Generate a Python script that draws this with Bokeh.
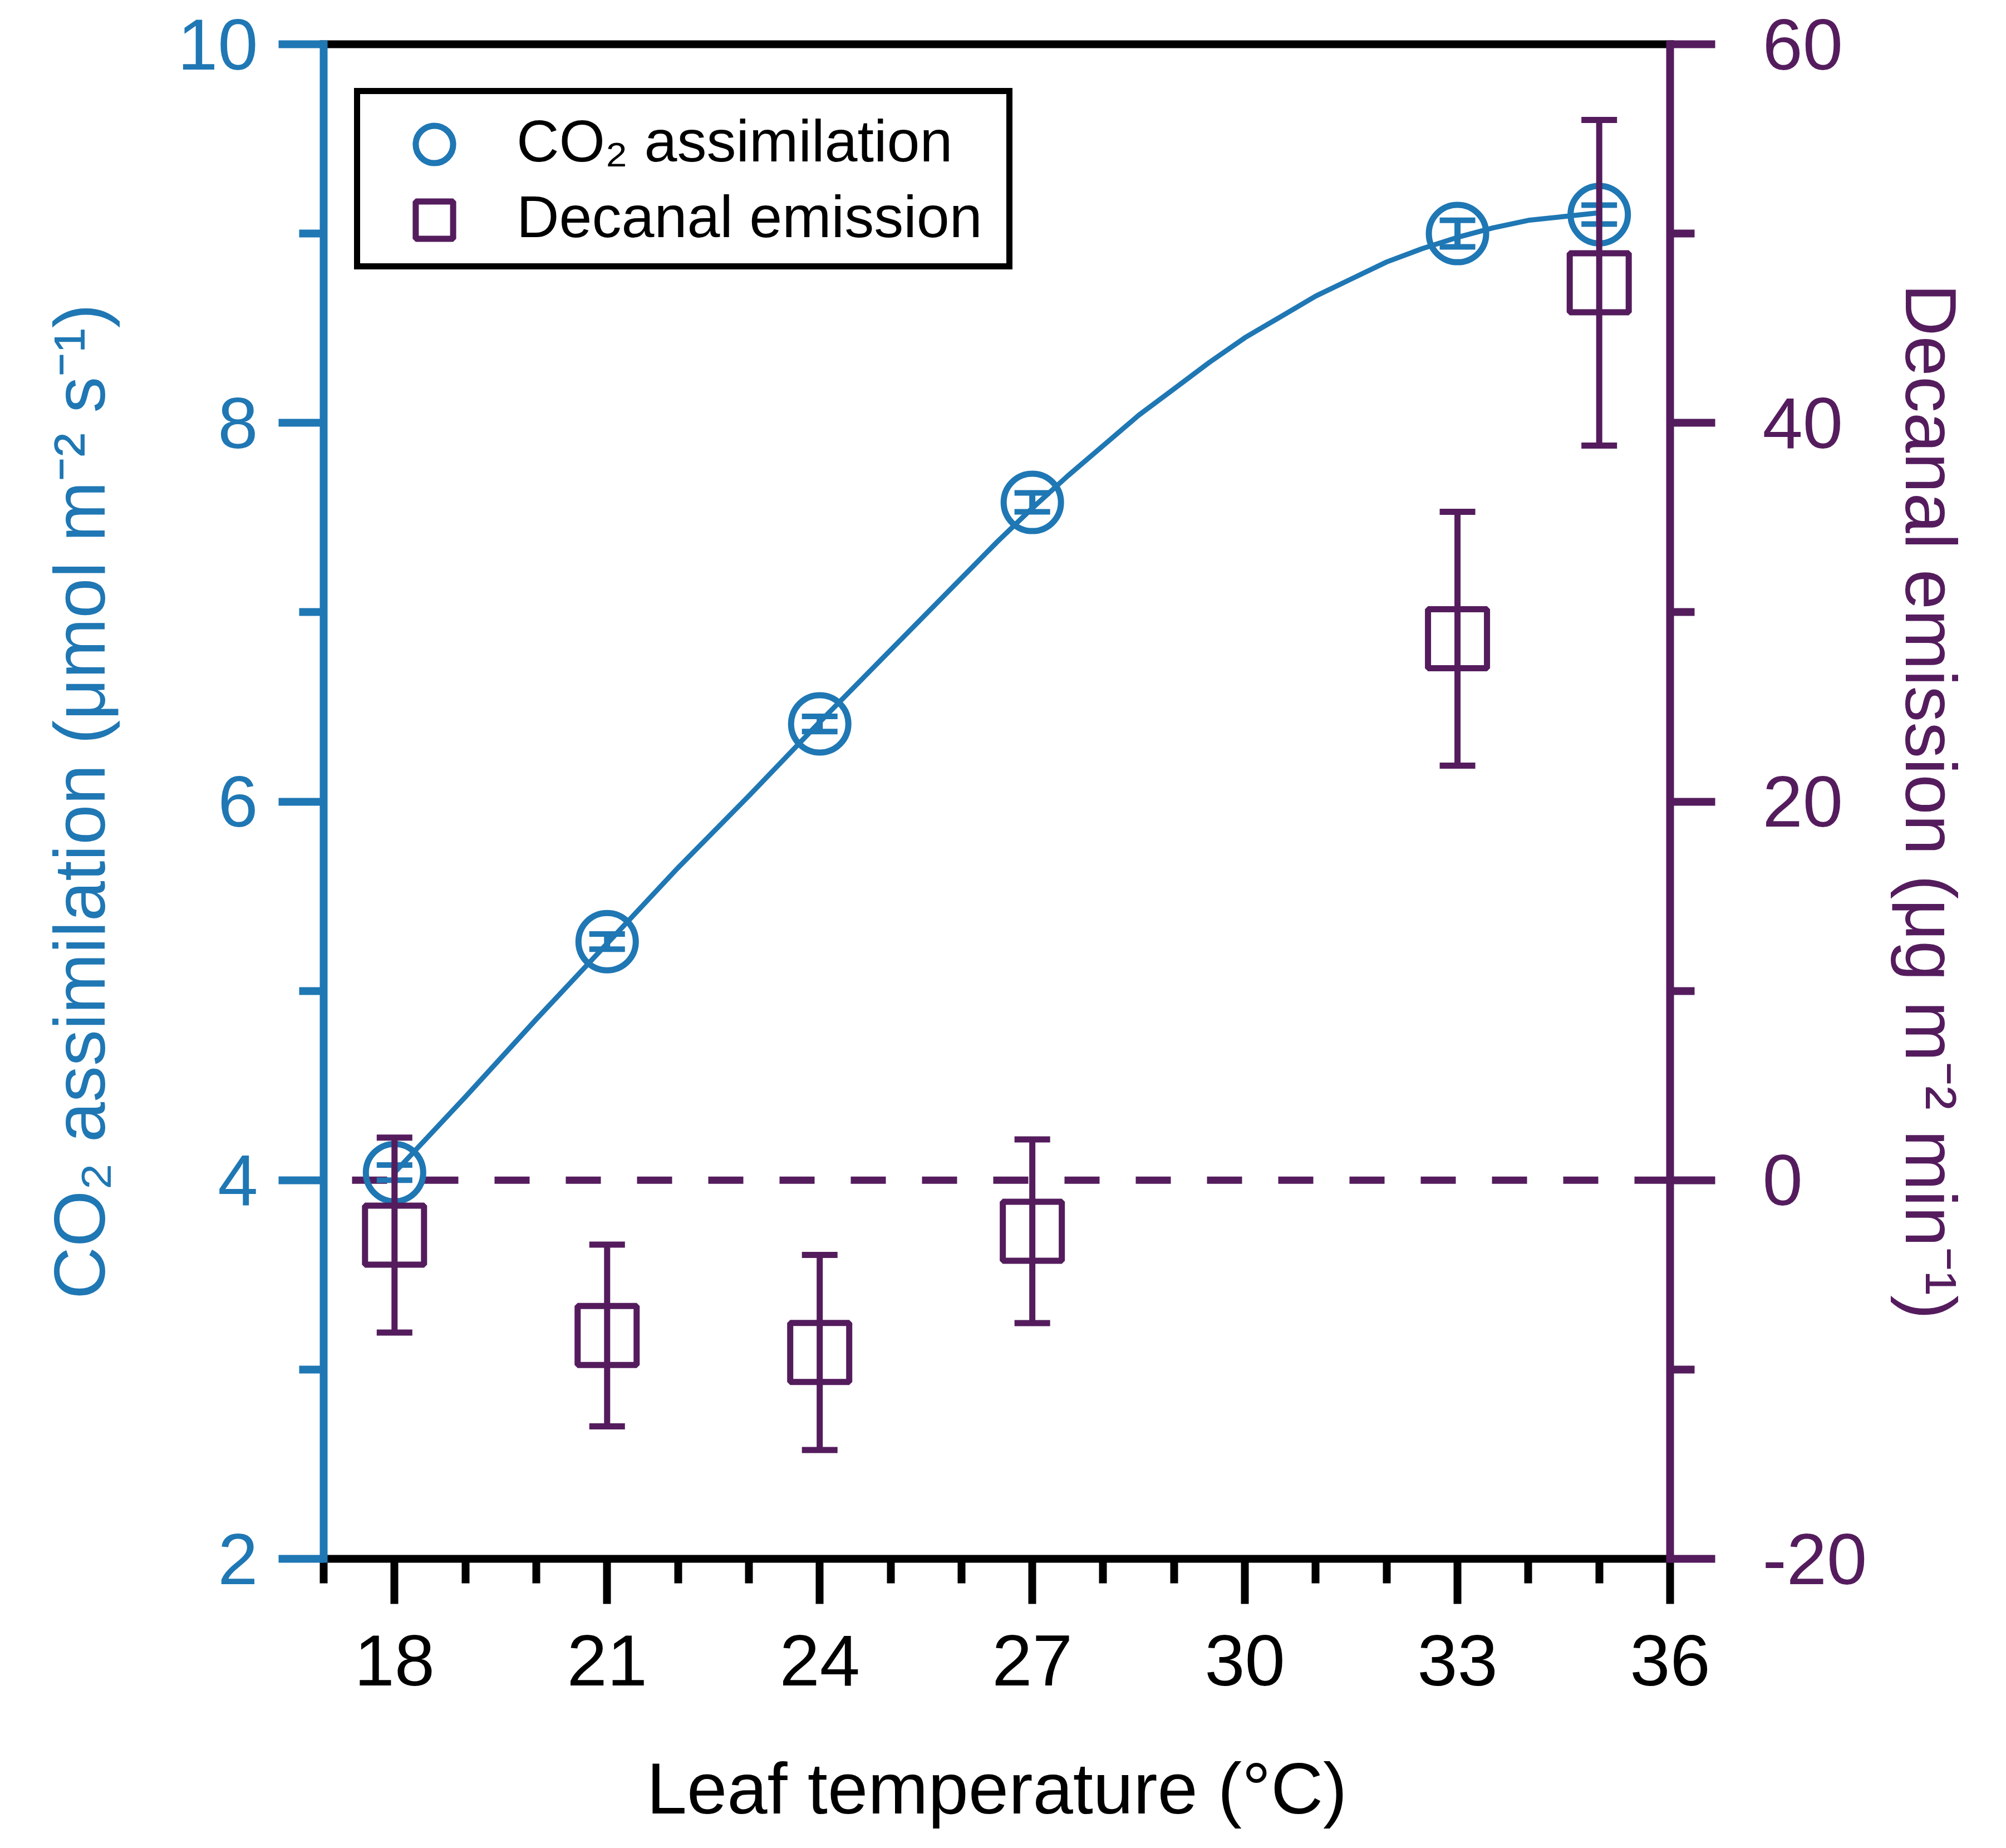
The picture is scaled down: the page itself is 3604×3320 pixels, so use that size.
from bokeh.plotting import figure
from bokeh.models import (Range1d, LinearAxis, FixedTicker, ColumnDataSource,
                          Whisker, TeeHead, Span, Legend, LegendItem)
from bokeh.embed import file_html
from bokeh.resources import INLINE

# Leaf temperature (°C) of the measured points
TEMP = [18, 21, 24, 27, 33, 35]

# CO2 assimilation (left axis) with error
CO2 = [4.04, 5.26, 6.41, 7.58, 9.00, 9.10]
CO2_ERR = [0.04, 0.04, 0.04, 0.05, 0.07, 0.05]

# decanal emission (right axis) with error
DECANAL = [-2.9, -8.2, -9.1, -2.7, 28.6, 47.4]
DECANAL_ERR = [5.15, 4.8, 5.15, 4.85, 6.7, 8.6]

# fitted curve through the CO2 points
FIT_T = [18, 19, 20, 21, 22, 23, 24, 25, 26, 26.5, 27, 27.5, 28, 28.5, 29, 29.5,
         30, 30.5, 31, 31.5, 32, 32.5, 33, 33.5, 34, 34.5, 35]
FIT_CO2 = [4.04, 4.44, 4.85, 5.25, 5.65, 6.03, 6.42, 6.80, 7.18, 7.37, 7.55, 7.72,
           7.88, 8.04, 8.18, 8.32, 8.45, 8.56, 8.67, 8.76, 8.85, 8.92, 8.98,
           9.03, 9.07, 9.09, 9.11]

X_TICKS = [18, 21, 24, 27, 30, 33, 36]
X_MINOR = [17, 19, 20, 22, 23, 25, 26, 28, 29, 31, 32, 34, 35]
LEFT_TICKS = [2, 4, 6, 8, 10]
LEFT_MINOR = [3, 5, 7, 9]
RIGHT_TICKS = [-20, 0, 20, 40, 60]
RIGHT_MINOR = [-10, 10, 30, 50]

LABELS = ["CO₂ assimilation", "Decanal emission"]

BLUE = "#1f77b4"
PURPLE = "#541c5d"
FONT = "Liberation Sans"
TICK_SIZE = "130px"


def style_axis(axis, color, ticks, minor):
    axis.ticker = FixedTicker(ticks=ticks, minor_ticks=minor)
    axis.major_label_overrides = {t: str(t) for t in ticks}
    axis.axis_line_color = color
    axis.axis_line_width = 14
    axis.axis_line_cap = "square"
    axis.major_tick_line_color = color
    axis.minor_tick_line_color = color
    axis.major_tick_line_width = 14
    axis.minor_tick_line_width = 14
    axis.major_tick_out = 81
    axis.major_tick_in = 0
    axis.minor_tick_out = 44
    axis.minor_tick_in = 0
    axis.major_label_text_color = color
    axis.major_label_text_font = FONT
    axis.major_label_text_font_size = TICK_SIZE
    axis.axis_label_text_color = color
    axis.axis_label_text_font = FONT
    axis.axis_label_text_font_size = TICK_SIZE
    axis.axis_label_text_font_style = "normal"


def glyph_legend(renderer, bottom):
    # legend holding only a marker, drawn larger than the default legend glyph
    return Legend(items=[LegendItem(label=" ", renderers=[renderer])],
                  location=(115, bottom), margin=0, padding=0, spacing=0,
                  glyph_width=168, glyph_height=168, label_standoff=0,
                  label_text_font_size="10px", border_line_color=None,
                  background_fill_alpha=0)


p = figure(width=3588, height=3304, output_backend="svg", toolbar_location=None,
           x_range=Range1d(17, 36), y_range=Range1d(2, 10),
           min_border_left=581, min_border_right=588,
           min_border_top=79, min_border_bottom=504)
p.outline_line_color = None
p.xgrid.visible = False
p.ygrid.visible = False
p.extra_y_ranges = {"dec": Range1d(-20, 60)}

style_axis(p.xaxis[0], "black", X_TICKS, X_MINOR)
p.xaxis.axis_label = "Leaf temperature (°C)"
p.xaxis.major_label_standoff = 56
p.xaxis.axis_label_standoff = 109

style_axis(p.yaxis[0], BLUE, LEFT_TICKS, LEFT_MINOR)
p.yaxis.axis_label = "CO₂ assimilation (μmol m⁻² s⁻¹)"
p.yaxis.major_label_standoff = 37
p.yaxis.axis_label_standoff = 100

right = LinearAxis(y_range_name="dec", axis_label="Decanal emission (μg m⁻² min⁻¹)")
style_axis(right, PURPLE, RIGHT_TICKS, RIGHT_MINOR)
right.major_label_standoff = 85
right.axis_label_standoff = 39
p.add_layout(right, "right")

# plain black line closing the top of the frame
top = LinearAxis(ticker=FixedTicker(ticks=[]), axis_line_color="black",
                 axis_line_width=14, axis_line_cap="square",
                 major_tick_out=0, minor_tick_out=0, major_label_standoff=0)
p.add_layout(top, "above")

# zero line of the decanal axis
p.add_layout(Span(location=0, dimension="width", y_range_name="dec",
                  line_color=PURPLE, line_width=13, line_dash="63 65",
                  line_dash_offset=77, level="underlay"))

p.line(FIT_T, FIT_CO2, line_color=BLUE, line_width=9, line_join="round")

co2_src = ColumnDataSource(data=dict(
    x=TEMP, y=CO2,
    lower=[v - e for v, e in zip(CO2, CO2_ERR)],
    upper=[v + e for v, e in zip(CO2, CO2_ERR)]))
dec_src = ColumnDataSource(data=dict(
    x=TEMP, y=DECANAL,
    lower=[v - e for v, e in zip(DECANAL, DECANAL_ERR)],
    upper=[v + e for v, e in zip(DECANAL, DECANAL_ERR)]))

co2_r = p.scatter("x", "y", source=co2_src, marker="circle", size=103,
                  fill_color=None, line_color=BLUE, line_width=11)
dec_r = p.scatter("x", "y", source=dec_src, marker="square", size=106,
                  fill_color=None, line_color=PURPLE, line_width=11,
                  y_range_name="dec")

p.add_layout(Whisker(source=co2_src, base="x", lower="lower", upper="upper",
                     line_color=BLUE, line_width=11, level="glyph",
                     lower_head=TeeHead(size=64, line_color=BLUE, line_width=10),
                     upper_head=TeeHead(size=64, line_color=BLUE, line_width=10)))
p.add_layout(Whisker(source=dec_src, base="x", lower="lower", upper="upper",
                     y_range_name="dec", line_color=PURPLE, line_width=11, level="glyph",
                     lower_head=TeeHead(size=64, line_color=PURPLE, line_width=11),
                     upper_head=TeeHead(size=64, line_color=PURPLE, line_width=11)))

# invisible twins carry the text entries of the framed legend
co2_ghost = p.scatter("x", "y", source=co2_src, marker="circle", size=1, alpha=0)
dec_ghost = p.scatter("x", "y", source=dec_src, marker="square", size=1, alpha=0,
                      y_range_name="dec")

box = Legend(items=[LegendItem(label=LABELS[0], renderers=[co2_ghost]),
                    LegendItem(label=LABELS[1], renderers=[dec_ghost])],
             location=(55, 2316), margin=0, padding=16, spacing=0,
             glyph_width=257, glyph_height=136, label_standoff=8, label_width=864,
             label_text_font=FONT, label_text_font_size="106px",
             label_text_color="black", border_line_color="black",
             border_line_alpha=1.0, border_line_width=11,
             background_fill_color="white", background_fill_alpha=1.0)
p.add_layout(box)
p.add_layout(glyph_legend(co2_r, 2457))
p.add_layout(glyph_legend(dec_r, 2321))

open("out.html", "w").write(file_html(p, INLINE))
